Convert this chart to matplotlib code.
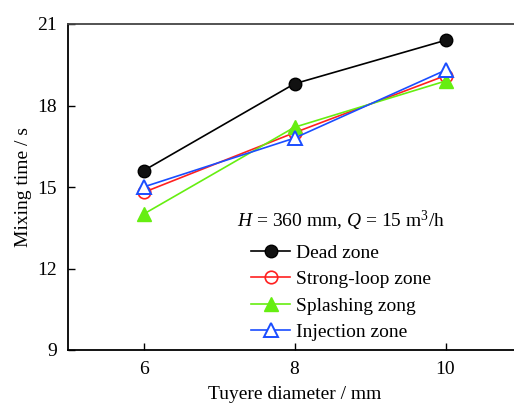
import matplotlib
matplotlib.use("Agg")
import matplotlib.pyplot as plt

plt.rcParams['font.family'] = ['Liberation Serif', 'DejaVu Serif']
plt.rcParams['mathtext.fontset'] = 'custom'
plt.rcParams['mathtext.rm'] = 'Liberation Serif'
plt.rcParams['mathtext.it'] = 'Liberation Serif:italic'

diameters = [6, 8, 10]
dead_zone = [15.6, 18.8, 20.4]
strong_loop = [14.8, 17.0, 19.1]
splashing = [14.0, 17.2, 18.9]
injection = [15.0, 16.8, 19.3]
labels = ["Dead zone", "Strong-loop zone", "Splashing zong", "Injection zone"]
yticks = [9, 12, 15, 18, 21]
xticks = [6, 8, 10]

fig = plt.figure(figsize=(5.14, 4.03), dpi=100)
W, H = 514, 403
ax = fig.add_axes([68 / W, 1 - 350 / H, 453 / W, 326 / H])

h1, = ax.plot(diameters, dead_zone, color='black', lw=1.2, marker='o', ms=9,
              mfc='#111111', mec='black', label=labels[0])
h2, = ax.plot(diameters, strong_loop, color='#ff2020', lw=1.2, marker='o', ms=9,
              mfc='none', mec='#ff2020', mew=1.2, label=labels[1])
ax.plot(diameters, strong_loop, ls='none', marker='o', ms=3, mfc='#e080c0', mec='none')
h3, = ax.plot(diameters, splashing, color='#66ee11', lw=1.2, marker='^', ms=10,
              mfc='#66ee11', mec='#66ee11', label=labels[2])
h4, = ax.plot(diameters, injection, color='#1a4dff', lw=1.2, marker='^', ms=10,
              mfc='white', mec='#1a4dff', mew=1.4, label=labels[3])

ax.set_xlim(5, 11)
ax.set_ylim(9, 21)
ax.set_xticks(xticks)
ax.set_yticks(yticks)
ax.tick_params(direction='in', length=5, width=1, labelsize=14, pad=8)
ax.tick_params(axis='x', top=False)
ax.tick_params(axis='y', right=False)
for s in ['left', 'bottom']:
    ax.spines[s].set_linewidth(1.3)
ax.spines['top'].set_linewidth(1.3)
ax.spines['top'].set_color('#444444')
ax.spines['right'].set_visible(False)

ax.set_xlabel("Tuyere diameter / mm", fontsize=14, labelpad=6)
ax.set_ylabel("Mixing time / s", fontsize=14, labelpad=4)

leg = ax.legend(handles=[h1, h2, h3, h4], loc='lower left',
                bbox_to_anchor=(0.3706, -0.02), frameon=False, fontsize=14,
                handlelength=2.0, handletextpad=0.3, labelspacing=0.45,
                borderpad=0.3)
ax.text((237 - 68) / 453, (350 - 221) / 326, r"$H$ = 360 mm, $Q$ = 15 m$^3$/h",
        transform=ax.transAxes, fontsize=14, va='center', ha='left')

fig.savefig("out.png", dpi=100)
